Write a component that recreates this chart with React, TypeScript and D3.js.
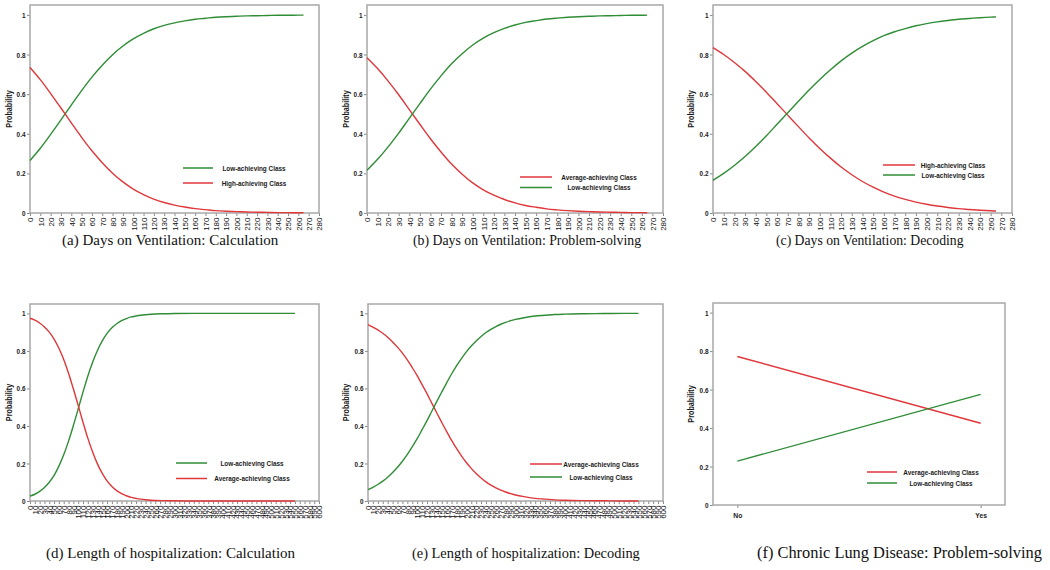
import React, { useRef, useEffect } from "react";
import * as d3 from "d3";

const GREEN = "#2f8d35";
const RED = "#e0373a";
const SANS = "'Liberation Sans', Arial, sans-serif";

// (a)-(c) days on ventilation
const daysVent = [0, 10, 20, 30, 40, 50, 60, 70, 80, 90, 100, 110, 120, 130, 140, 150, 160, 170, 180, 190, 200, 210, 220, 230, 240, 250, 260, 265];
const calcLow = [0.265, 0.327, 0.397, 0.47, 0.545, 0.618, 0.686, 0.746, 0.799, 0.843, 0.879, 0.907, 0.93, 0.947, 0.96, 0.97, 0.978, 0.983, 0.988, 0.991, 0.993, 0.995, 0.996, 0.997, 0.998, 0.998, 0.999, 0.999];
const calcHigh = [0.735, 0.673, 0.603, 0.53, 0.455, 0.382, 0.314, 0.254, 0.201, 0.157, 0.121, 0.093, 0.07, 0.053, 0.04, 0.03, 0.022, 0.017, 0.012, 0.009, 0.007, 0.005, 0.004, 0.003, 0.002, 0.002, 0.001, 0.001];
const probAverage = [0.784, 0.729, 0.666, 0.597, 0.522, 0.448, 0.375, 0.308, 0.247, 0.196, 0.152, 0.117, 0.09, 0.068, 0.051, 0.038, 0.029, 0.021, 0.016, 0.012, 0.009, 0.007, 0.005, 0.004, 0.003, 0.002, 0.002, 0.001];
const probLow = [0.216, 0.271, 0.334, 0.403, 0.478, 0.552, 0.625, 0.692, 0.753, 0.804, 0.848, 0.883, 0.91, 0.932, 0.949, 0.962, 0.971, 0.979, 0.984, 0.988, 0.991, 0.993, 0.995, 0.996, 0.997, 0.998, 0.998, 0.999];
const decHigh = [0.835, 0.8, 0.76, 0.715, 0.664, 0.61, 0.552, 0.494, 0.436, 0.379, 0.326, 0.277, 0.232, 0.193, 0.159, 0.13, 0.105, 0.085, 0.069, 0.055, 0.044, 0.035, 0.028, 0.022, 0.018, 0.014, 0.011, 0.01];
const decLow = [0.165, 0.2, 0.24, 0.285, 0.336, 0.39, 0.448, 0.506, 0.564, 0.621, 0.674, 0.723, 0.768, 0.807, 0.841, 0.87, 0.895, 0.915, 0.931, 0.945, 0.956, 0.965, 0.972, 0.978, 0.982, 0.986, 0.989, 0.99];

// (d) length of hospitalization: calculation
const daysHospD = [0, 10, 20, 30, 40, 50, 60, 70, 80, 90, 100, 110, 120, 130, 140, 150, 160, 170, 180, 190, 200, 210, 220, 230, 240, 260, 280, 300, 340, 380, 420, 460, 500, 550];
const hospCalcLow = [0.026, 0.036, 0.051, 0.072, 0.1, 0.137, 0.186, 0.246, 0.319, 0.402, 0.49, 0.58, 0.665, 0.739, 0.802, 0.853, 0.893, 0.923, 0.945, 0.961, 0.972, 0.981, 0.986, 0.99, 0.993, 0.997, 0.998, 0.999, 1, 1, 1, 1, 1, 1];
const hospCalcAverage = [0.974, 0.964, 0.949, 0.928, 0.9, 0.863, 0.814, 0.754, 0.681, 0.598, 0.51, 0.42, 0.335, 0.261, 0.198, 0.147, 0.107, 0.077, 0.055, 0.039, 0.028, 0.019, 0.014, 0.01, 0.007, 0.003, 0.002, 0.001, 0, 0, 0, 0, 0, 0];

// (e) length of hospitalization: decoding
const daysHospE = [0, 10, 20, 30, 40, 50, 60, 70, 80, 90, 100, 110, 120, 130, 140, 150, 160, 170, 180, 190, 200, 210, 220, 230, 240, 250, 260, 270, 280, 290, 300, 320, 340, 360, 380, 400, 440, 480, 520, 550];
const hospDecAverage = [0.94, 0.927, 0.912, 0.894, 0.873, 0.848, 0.82, 0.788, 0.752, 0.711, 0.668, 0.62, 0.572, 0.52, 0.469, 0.419, 0.37, 0.323, 0.28, 0.241, 0.205, 0.174, 0.147, 0.123, 0.102, 0.085, 0.07, 0.058, 0.048, 0.039, 0.032, 0.022, 0.014, 0.01, 0.006, 0.004, 0.002, 0.001, 0, 0];
const hospDecLow = [0.06, 0.073, 0.088, 0.106, 0.127, 0.152, 0.18, 0.212, 0.248, 0.289, 0.332, 0.38, 0.428, 0.48, 0.531, 0.581, 0.63, 0.677, 0.72, 0.759, 0.795, 0.826, 0.853, 0.877, 0.898, 0.915, 0.93, 0.942, 0.952, 0.961, 0.968, 0.978, 0.986, 0.99, 0.994, 0.996, 0.998, 0.999, 1, 1];

// (f) chronic lung disease
const clCats = ["No", "Yes"];
const clAverage = [0.772, 0.425];
const clLow = [0.228, 0.575];

const yTicks = [0, 0.2, 0.4, 0.6, 0.8, 1];

interface Series { name: string; color: string; values: number[] }
interface Panel {
  x0: number; x1: number; top: number; bottom: number; labelX: number;
  days?: number[]; xMax?: number; cats?: string[];
  series: Series[];
  leg: { lx1: number; lx2: number; tx: number; y: number; gap: number };
  caption: string; capX: number; capY: number; capSize: number;
}

const panels: Panel[] = [
  {
    x0: 30, x1: 319, top: 5, bottom: 213, labelX: 9, days: daysVent, xMax: 280,
    series: [
      { name: "Low-achieving Class", color: GREEN, values: calcLow },
      { name: "High-achieving Class", color: RED, values: calcHigh },
    ],
    leg: { lx1: 183, lx2: 213, tx: 254, y: 168, gap: 15 },
    caption: "(a) Days on Ventilation: Calculation", capX: 62, capY: 245, capSize: 15,
  },
  {
    x0: 367, x1: 663, top: 5, bottom: 213, labelX: 346, days: daysVent, xMax: 280,
    series: [
      { name: "Average-achieving Class", color: RED, values: probAverage },
      { name: "Low-achieving Class", color: GREEN, values: probLow },
    ],
    leg: { lx1: 520, lx2: 552, tx: 599, y: 177, gap: 10.5 },
    caption: "(b) Days on Ventilation: Problem-solving", capX: 413, capY: 245, capSize: 13.8,
  },
  {
    x0: 713, x1: 1012, top: 5, bottom: 213, labelX: 691, days: daysVent, xMax: 280,
    series: [
      { name: "High-achieving Class", color: RED, values: decHigh },
      { name: "Low-achieving Class", color: GREEN, values: decLow },
    ],
    leg: { lx1: 883, lx2: 915, tx: 953, y: 165, gap: 10 },
    caption: "(c) Days on Ventilation: Decoding", capX: 776, capY: 245, capSize: 13.7,
  },
  {
    x0: 30, x1: 319, top: 304, bottom: 501, labelX: 9, days: daysHospD, xMax: 600,
    series: [
      { name: "Low-achieving Class", color: GREEN, values: hospCalcLow },
      { name: "Average-achieving Class", color: RED, values: hospCalcAverage },
    ],
    leg: { lx1: 176, lx2: 207, tx: 252, y: 463, gap: 15.5 },
    caption: "(d) Length of hospitalization: Calculation", capX: 46, capY: 558, capSize: 15,
  },
  {
    x0: 368, x1: 663, top: 304, bottom: 501, labelX: 346, days: daysHospE, xMax: 600,
    series: [
      { name: "Average-achieving Class", color: RED, values: hospDecAverage },
      { name: "Low-achieving Class", color: GREEN, values: hospDecLow },
    ],
    leg: { lx1: 530, lx2: 562, tx: 601, y: 464, gap: 13 },
    caption: "(e) Length of hospitalization: Decoding", capX: 412, capY: 558, capSize: 14.4,
  },
  {
    x0: 713, x1: 1005, top: 303, bottom: 505, labelX: 691, cats: clCats,
    series: [
      { name: "Average-achieving Class", color: RED, values: clAverage },
      { name: "Low-achieving Class", color: GREEN, values: clLow },
    ],
    leg: { lx1: 867, lx2: 897, tx: 941, y: 472, gap: 11 },
    caption: "(f) Chronic Lung Disease: Problem-solving", capX: 757, capY: 558, capSize: 16.4,
  },
];

const fmtY = (d: number) => (d === 0 ? "0" : d === 1 ? "1" : d.toFixed(1));

const App: React.FC = () => {
  const svgRef = useRef<SVGSVGElement>(null);

  useEffect(() => {
    const svg = d3.select(svgRef.current);
    svg.selectAll("*").remove();

    panels.forEach((p) => {
      const g = svg.append("g");
      const y = d3.scaleLinear().domain([0, 1.05]).range([p.bottom, p.top]);

      // y axis (narrow bold labels, squeezed horizontally)
      const ya = g
        .append("g")
        .attr("transform", `translate(${p.x0},0)`)
        .call(d3.axisLeft(y).tickValues(yTicks).tickFormat(fmtY as any).tickSize(3));
      ya.select(".domain").remove();
      ya.selectAll("line").attr("stroke", "#888");
      ya.selectAll("text")
        .attr("x", 0)
        .attr("transform", "translate(-4.5,0) scale(0.8,1)")
        .attr("font-family", SANS)
        .attr("font-size", 8)
        .attr("font-weight", "bold")
        .attr("fill", "#1a1a1a");

      g.append("text")
        .attr("transform", `translate(${p.labelX},${(p.top + p.bottom) / 2}) rotate(-90) scale(0.85,1)`)
        .attr("text-anchor", "middle")
        .attr("dy", "0.35em")
        .attr("font-family", SANS)
        .attr("font-size", 8.5)
        .attr("font-weight", "bold")
        .attr("fill", "#1a1a1a")
        .text("Probability");

      let px: (i: number) => number;
      if (p.cats) {
        const x = d3.scalePoint<string>().domain(p.cats).range([p.x0, p.x1]).padding(0.1);
        px = (i) => x(p.cats![i]) as number;
        const xa = g
          .append("g")
          .attr("transform", `translate(0,${p.bottom})`)
          .call(d3.axisBottom(x).tickSize(3).tickPadding(4));
        xa.select(".domain").remove();
        xa.selectAll("line").attr("stroke", "#888");
        xa.selectAll("text")
          .attr("transform", "scale(0.85,1)")
          .attr("font-family", SANS)
          .attr("font-size", 8)
          .attr("font-weight", "bold")
          .attr("fill", "#1a1a1a");
      } else {
        const x = d3.scaleLinear().domain([0, p.xMax!]).range([p.x0, p.x1]);
        px = (i) => x(p.days![i]);
        const xa = g
          .append("g")
          .attr("transform", `translate(0,${p.bottom})`)
          .call(d3.axisBottom(x).tickValues(d3.range(0, p.xMax! + 1, 10)).tickFormat(d3.format("d") as any).tickSize(3));
        xa.select(".domain").remove();
        xa.selectAll("line").attr("stroke", "#888");
        xa.selectAll("text")
          .attr("transform", "rotate(-90)")
          .attr("x", -4.5)
          .attr("y", 0)
          .attr("dy", "0.35em")
          .attr("text-anchor", "end")
          .attr("font-family", SANS)
          .attr("font-size", 8)
          .attr("fill", "#111");
      }

      // frame
      g.append("rect")
        .attr("x", p.x0)
        .attr("y", p.top)
        .attr("width", p.x1 - p.x0)
        .attr("height", p.bottom - p.top)
        .attr("fill", "none")
        .attr("stroke", "#a8a8a8")
        .attr("stroke-width", 1.5);

      // curves
      const line = d3
        .line<number>()
        .x((_, i) => px(i))
        .y((d) => y(d))
        .curve(p.cats ? d3.curveLinear : d3.curveMonotoneX);
      p.series.forEach((s) => {
        g.append("path")
          .attr("d", line(s.values))
          .attr("fill", "none")
          .attr("stroke", s.color)
          .attr("stroke-width", 1.4);
      });

      // legend
      p.series.forEach((s, i) => {
        const ly = p.leg.y + i * p.leg.gap;
        g.append("line")
          .attr("x1", p.leg.lx1)
          .attr("x2", p.leg.lx2)
          .attr("y1", ly)
          .attr("y2", ly)
          .attr("stroke", s.color)
          .attr("stroke-width", 1.5);
        g.append("text")
          .attr("transform", `translate(${p.leg.tx},${ly}) scale(0.8,1)`)
          .attr("dy", "0.35em")
          .attr("text-anchor", "middle")
          .attr("font-family", SANS)
          .attr("font-size", 8)
          .attr("font-weight", "bold")
          .attr("fill", "#1a1a1a")
          .text(s.name);
      });

      // caption
      svg.append("text")
        .attr("x", p.capX)
        .attr("y", p.capY)
        .attr("font-family", "'Liberation Serif', 'Times New Roman', serif")
        .attr("font-size", p.capSize)
        .attr("fill", "#111")
        .text(p.caption);
    });
  }, []);

  return (
    <svg
      ref={svgRef}
      width={1050}
      height={570}
      style={{ position: "absolute", left: 0, top: 0, background: "#fff" }}
    />
  );
};

export default App;
